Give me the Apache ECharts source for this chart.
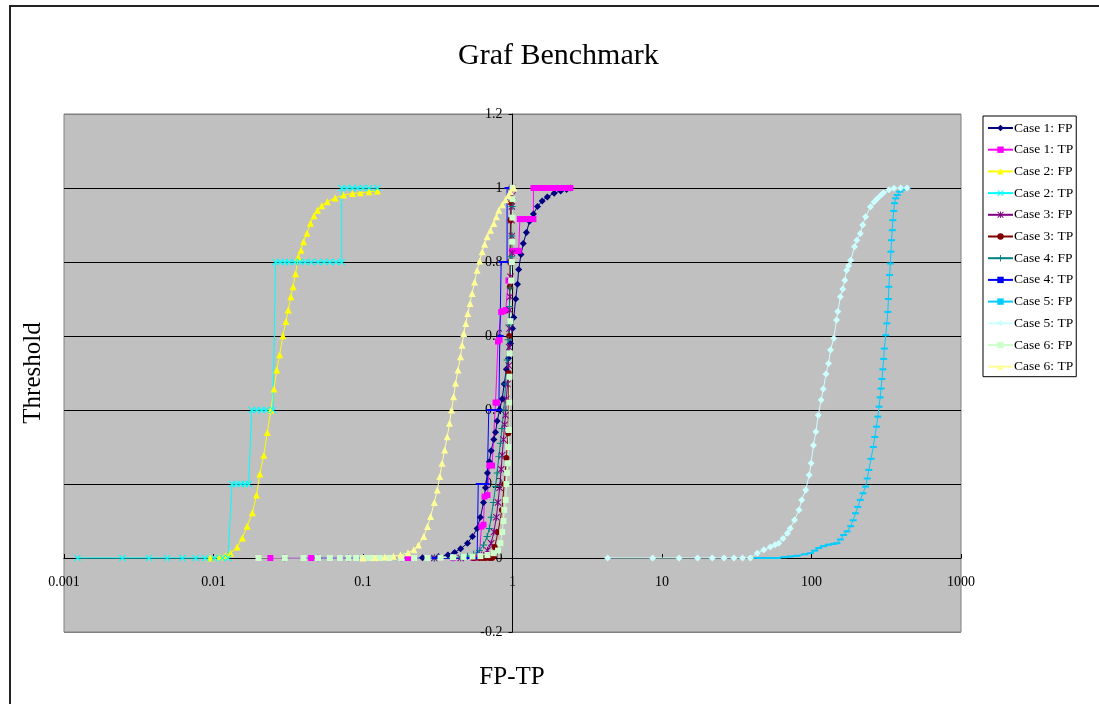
<!DOCTYPE html>
<html>
<head>
<meta charset="utf-8">
<title>Graf Benchmark</title>
<script src="https://cdn.jsdelivr.net/npm/echarts@6/dist/echarts.min.js"></script>
<style>
  html, body { margin: 0; padding: 0; background: #fff; }
  #chart { width: 1099px; height: 704px; }
</style>
</head>
<body>
<div id="chart"></div>
<script>
// tick labels
const xTickLabels = ["0.001", "0.01", "0.1", "1", "10", "100", "1000"];
const yTicks = [-0.2, 0, 0.2, 0.4, 0.6, 0.8, 1, 1.2];

const seriesNames = [
  "Case 1: FP", "Case 1: TP", "Case 2: FP", "Case 2: TP",
  "Case 3: FP", "Case 3: TP", "Case 4: FP", "Case 4: TP",
  "Case 5: FP", "Case 5: TP", "Case 6: FP", "Case 6: TP"
];

// [FP-TP, Threshold] pairs
const case1FP = [[0.03,0],[0.05,0],[0.08,0],[0.12,0],[0.18,0],[0.25,0.001],[0.32,0.004],[0.37,0.008],[0.41,0.015],[0.45,0.025],[0.5,0.04],[0.54,0.058],[0.58,0.08],[0.61,0.11],[0.64,0.15],[0.66,0.19],[0.68,0.23],[0.7,0.26],[0.72,0.29],[0.75,0.32],[0.77,0.34],[0.79,0.37],[0.82,0.4],[0.853,0.43],[0.88,0.47],[0.91,0.51],[0.94,0.54],[0.97,0.58],[1.0,0.62],[1.02,0.65],[1.05,0.7],[1.08,0.74],[1.1,0.78],[1.14,0.82],[1.18,0.85],[1.24,0.88],[1.3,0.91],[1.38,0.93],[1.47,0.95],[1.58,0.965],[1.71,0.976],[1.9,0.986],[2.1,0.992],[2.3,0.996],[2.44,1]];
const case1TP = [[0.024,0],[0.045,0],[0.07,0],[0.1,0],[0.2,0],[0.4,0],[0.55,0],[0.6,0.003],[0.62,0.085],[0.64,0.09],[0.65,0.166],[0.68,0.17],[0.7,0.25],[0.73,0.25],[0.77,0.42],[0.79,0.42],[0.8,0.585],[0.82,0.59],[0.84,0.665],[0.87,0.667],[0.9,0.67],[0.94,0.75],[0.97,0.75],[0.995,0.83],[1.05,0.83],[1.1,0.83],[1.12,0.916],[1.18,0.916],[1.24,0.916],[1.3,0.916],[1.38,0.916],[1.38,1],[1.45,1],[1.55,1],[1.65,1],[1.75,1],[1.85,1],[1.95,1],[2.1,1],[2.25,1],[2.44,1]];
const case2FP = [[0.0095,0],[0.011,0.003],[0.012,0.006],[0.013,0.013],[0.0144,0.03],[0.0156,0.054],[0.0168,0.086],[0.0182,0.122],[0.0194,0.17],[0.0204,0.227],[0.0217,0.278],[0.0229,0.339],[0.0242,0.4],[0.0254,0.457],[0.0265,0.508],[0.0277,0.549],[0.0291,0.601],[0.0305,0.639],[0.0316,0.67],[0.0329,0.706],[0.0341,0.733],[0.0354,0.768],[0.0369,0.813],[0.0385,0.832],[0.04,0.855],[0.0422,0.878],[0.0445,0.905],[0.047,0.925],[0.0496,0.94],[0.053,0.952],[0.0577,0.963],[0.065,0.973],[0.0741,0.981],[0.085,0.985],[0.096,0.987],[0.11,0.99],[0.125,0.992]];
const case2TP = [[0.00123,0],[0.00246,0],[0.0037,0],[0.0049,0],[0.0062,0],[0.0076,0],[0.0088,0],[0.0102,0],[0.0115,0],[0.0125,0],[0.0133,0.2],[0.0142,0.2],[0.0152,0.2],[0.0162,0.2],[0.0172,0.2],[0.018,0.4],[0.0195,0.4],[0.021,0.4],[0.0225,0.4],[0.025,0.4],[0.026,0.8],[0.028,0.8],[0.03,0.8],[0.032,0.8],[0.035,0.8],[0.038,0.8],[0.041,0.8],[0.045,0.8],[0.05,0.8],[0.055,0.8],[0.06,0.8],[0.066,0.8],[0.072,0.8],[0.072,1],[0.078,1],[0.085,1],[0.092,1],[0.1,1],[0.11,1],[0.125,1]];
const case3FP = [[0.3,0],[0.45,0],[0.55,0.002],[0.62,0.008],[0.68,0.02],[0.72,0.04],[0.75,0.07],[0.78,0.11],[0.8,0.15],[0.82,0.19],[0.84,0.24],[0.853,0.278],[0.87,0.32],[0.885,0.36],[0.898,0.386],[0.91,0.43],[0.925,0.47],[0.944,0.52],[0.95,0.57],[0.955,0.62],[0.96,0.67],[0.963,0.706],[0.97,0.76],[0.98,0.8],[0.995,0.824],[0.99,0.87],[0.985,0.913],[0.99,0.95],[1.0,0.98],[1.0,1]];
const case3TP = [[0.55,0],[0.6,0],[0.63,0],[0.66,0],[0.7,0],[0.73,0],[0.75,0.005],[0.76,0.03],[0.8,0.07],[0.85,0.13],[0.88,0.2],[0.91,0.27],[0.936,0.337],[0.94,0.42],[0.944,0.5],[0.95,0.6],[0.96,0.733],[0.963,0.8],[0.97,0.913],[0.975,0.96],[0.98,1]];
const case4FP = [[0.3,0],[0.4,0],[0.45,0.002],[0.5,0.005],[0.55,0.01],[0.6,0.02],[0.64,0.035],[0.677,0.058],[0.7,0.08],[0.72,0.11],[0.745,0.15],[0.77,0.193],[0.79,0.23],[0.81,0.274],[0.83,0.31],[0.85,0.35],[0.875,0.4],[0.9,0.47],[0.92,0.535],[0.935,0.59],[0.944,0.63],[0.955,0.68],[0.965,0.73],[0.98,0.814],[0.99,0.87],[0.995,0.95],[1.0,1]];
const case4TP = [[0.04,0],[0.08,0],[0.15,0],[0.3,0],[0.5,0],[0.58,0],[0.59,0.2],[0.62,0.2],[0.65,0.2],[0.677,0.2],[0.694,0.4],[0.73,0.4],[0.77,0.4],[0.81,0.4],[0.823,0.6],[0.84,0.6],[0.84,0.8],[0.89,0.8],[0.92,0.8],[0.92,1],[0.95,1],[0.98,1]];
const case5FP = [[40,0],[45,0],[50,0],[55,0],[59,0],[65,0.002],[72,0.004],[80,0.006],[90,0.01],[98.5,0.013],[105,0.02],[112,0.027],[120,0.032],[130,0.036],[140,0.038],[148,0.04],[156,0.05],[164,0.062],[173,0.072],[183,0.086],[190,0.102],[197,0.121],[204,0.138],[212,0.157],[221,0.175],[230,0.193],[236,0.215],[242,0.238],[250,0.268],[259,0.3],[265,0.327],[272,0.355],[278,0.382],[283,0.409],[288,0.434],[292,0.458],[296,0.484],[300,0.51],[304,0.538],[307,0.566],[314,0.602],[319,0.634],[324,0.665],[327,0.7],[329,0.733],[333,0.765],[337,0.796],[340,0.828],[343,0.859],[347,0.886],[350,0.913],[355,0.938],[359,0.959],[366,0.972],[375,0.981],[390,0.99],[405,0.996],[420,0.999],[435,1]];
const case5TP = [[4.33,0],[8.66,0],[13,0],[17.3,0],[21.7,0],[26,0],[30.3,0],[34.6,0],[39,0],[43.4,0.013],[48,0.022],[53,0.03],[57,0.036],[60.4,0.04],[64.5,0.053],[69,0.067],[72,0.08],[77,0.103],[82.5,0.13],[86,0.157],[91.5,0.184],[96.5,0.224],[99.4,0.256],[103,0.305],[107,0.341],[111,0.386],[116,0.427],[120,0.457],[125,0.497],[130,0.526],[134,0.562],[141,0.594],[147,0.643],[150,0.666],[156,0.706],[162,0.727],[167,0.751],[172,0.778],[177,0.79],[183,0.805],[194,0.841],[201,0.859],[212,0.877],[220,0.9],[230,0.922],[248,0.949],[262,0.962],[275,0.971],[290,0.98],[303,0.987],[330,0.995],[356,0.999],[395,1],[435,1]];
const case6FP = [[0.02,0],[0.03,0],[0.04,0],[0.05,0],[0.06,0],[0.07,0],[0.08,0],[0.09,0],[0.1,0],[0.11,0],[0.12,0],[0.13,0],[0.15,0],[0.18,0],[0.22,0],[0.27,0],[0.33,0.001],[0.4,0.002],[0.47,0.003],[0.54,0.004],[0.61,0.005],[0.68,0.008],[0.75,0.013],[0.8,0.02],[0.83,0.04],[0.853,0.07],[0.87,0.1],[0.88,0.13],[0.9,0.157],[0.91,0.2],[0.92,0.23],[0.93,0.256],[0.937,0.3],[0.944,0.346],[0.95,0.42],[0.955,0.49],[0.96,0.553],[0.97,0.64],[0.98,0.75],[0.99,0.8],[0.995,0.855],[0.998,0.92],[1.0,0.97],[1.0,1]];
const case6TP = [[0.1,0],[0.12,0.001],[0.14,0.003],[0.16,0.005],[0.178,0.008],[0.2,0.014],[0.219,0.022],[0.235,0.035],[0.255,0.058],[0.27,0.085],[0.283,0.112],[0.3,0.15],[0.314,0.184],[0.326,0.22],[0.338,0.256],[0.352,0.292],[0.366,0.328],[0.379,0.364],[0.391,0.4],[0.404,0.436],[0.416,0.472],[0.432,0.508],[0.449,0.544],[0.46,0.575],[0.472,0.607],[0.487,0.634],[0.502,0.661],[0.52,0.688],[0.537,0.715],[0.558,0.746],[0.58,0.778],[0.603,0.803],[0.627,0.828],[0.651,0.848],[0.677,0.868],[0.712,0.886],[0.75,0.904],[0.78,0.922],[0.81,0.94],[0.855,0.955],[0.9,0.968],[0.935,0.98],[0.97,0.99],[1.02,1]];

const seriesData = [case1FP, case1TP, case2FP, case2TP, case3FP, case3TP,
                    case4FP, case4TP, case5FP, case5TP, case6FP, case6TP];

// excel-like marker shapes
const xMark = "path://M0,1L1,0L5,4L9,0L10,1L6,5L10,9L9,10L5,6L1,10L0,9L4,5Z";
const plusMark = "path://M4.3,0H5.7V4.3H10V5.7H5.7V10H4.3V5.7H0V4.3H4.3Z";
const starMark = "path://M0,1L1,0L5,4L9,0L10,1L6,5L10,9L9,10L5,6L1,10L0,9L4,5ZM4.3,0H5.7V10H4.3Z";
const dashMark = "path://M0,0H10V3H0Z";

const styles = [
  { color: "#000080", symbol: "diamond", size: 7 },
  { color: "#FF00FF", symbol: "rect", size: 6 },
  { color: "#FFFF00", symbol: "triangle", size: 7 },
  { color: "#00FFFF", symbol: xMark, size: 7 },
  { color: "#800080", symbol: starMark, size: 7 },
  { color: "#800000", symbol: "circle", size: 6 },
  { color: "#008080", symbol: plusMark, size: 7 },
  { color: "#0000FF", symbol: dashMark, size: [5, 2] },
  { color: "#00CCFF", symbol: dashMark, size: [7, 2] },
  { color: "#CCFFFF", symbol: "diamond", size: 7 },
  { color: "#CCFFCC", symbol: "rect", size: 6 },
  { color: "#FFFF99", symbol: "triangle", size: 7 }
];

const serif = "Liberation Serif";

let myChart = echarts.init(document.getElementById("chart"));
let option = {
  animation: false,
  backgroundColor: "#fff",
  title: {
    text: "Graf Benchmark",
    left: 453,
    top: 36,
    textStyle: { fontFamily: serif, fontSize: 30, fontWeight: "normal", color: "#000" }
  },
  legend: {
    orient: "vertical",
    left: 983,
    top: 116,
    padding: [5, 3, 3, 4],
    itemWidth: 25,
    itemHeight: 8,
    itemGap: 7.7,
    backgroundColor: "#fff",
    borderColor: "#000",
    borderWidth: 1,
    symbolKeepAspect: true,
    data: seriesNames,
    textStyle: { fontFamily: serif, fontSize: 13.5, color: "#000", padding: [0, 0, 0, -4] }
  },
  grid: {
    left: 64,
    right: 138,
    top: 114,
    bottom: 72,
    outerBoundsMode: "none",
    show: true,
    backgroundColor: "#C0C0C0",
    borderColor: "#808080",
    borderWidth: 1
  },
  graphic: [
    {
      type: "rect",
      shape: { x: 10, y: 6, width: 1300, height: 900 },
      style: { fill: null, stroke: "#222", lineWidth: 2 },
      silent: true
    },
    {
      type: "text",
      x: 33,
      y: 373,
      rotation: Math.PI / 2,
      style: { text: "Threshold", font: "25px 'Liberation Serif'", fill: "#000",
               align: "center", verticalAlign: "middle" }
    },
    {
      type: "text",
      x: 512,
      y: 677,
      style: { text: "FP-TP", font: "25px 'Liberation Serif'", fill: "#000",
               align: "center", verticalAlign: "middle" }
    }
  ],
  xAxis: {
    type: "log",
    logBase: 10,
    min: 0.001,
    max: 1000,
    splitNumber: 6,
    axisLine: { show: true, onZero: true, lineStyle: { color: "#000", width: 1 } },
    axisTick: { show: true, inside: true, length: 4, lineStyle: { color: "#000" } },
    axisLabel: {
      margin: -57,
      fontFamily: serif,
      fontSize: 14,
      color: "#000",
      formatter: function (v) {
        return xTickLabels[Math.round(Math.log10(v)) + 3];
      }
    },
    splitLine: { show: false }
  },
  yAxis: {
    type: "value",
    min: -0.2,
    max: 1.2,
    interval: 0.2,
    offset: -448.5,
    axisLine: { show: true, onZero: false, lineStyle: { color: "#000", width: 1 } },
    axisTick: { show: true, length: 4, lineStyle: { color: "#000" } },
    axisLabel: {
      margin: 10,
      fontFamily: serif,
      fontSize: 14,
      color: "#000",
      formatter: function (v) {
        return String(+v.toFixed(1));
      }
    },
    splitLine: {
      show: true,
      lineStyle: {
        color: yTicks.map(function (t, i) {
          return i === 0 || i === yTicks.length - 1 ? "#808080" : "#000";
        }),
        width: 1
      }
    }
  },
  series: seriesNames.map(function (name, i) {
    let s = styles[i];
    return {
      name: name,
      type: "line",
      data: seriesData[i],
      symbol: s.symbol,
      symbolSize: s.size,
      showAllSymbol: true,
      lineStyle: { color: s.color, width: 1 },
      itemStyle: { color: s.color, borderWidth: 0 },
      emphasis: { disabled: true }
    };
  })
};
myChart.setOption(option);
</script>
</body>
</html>
